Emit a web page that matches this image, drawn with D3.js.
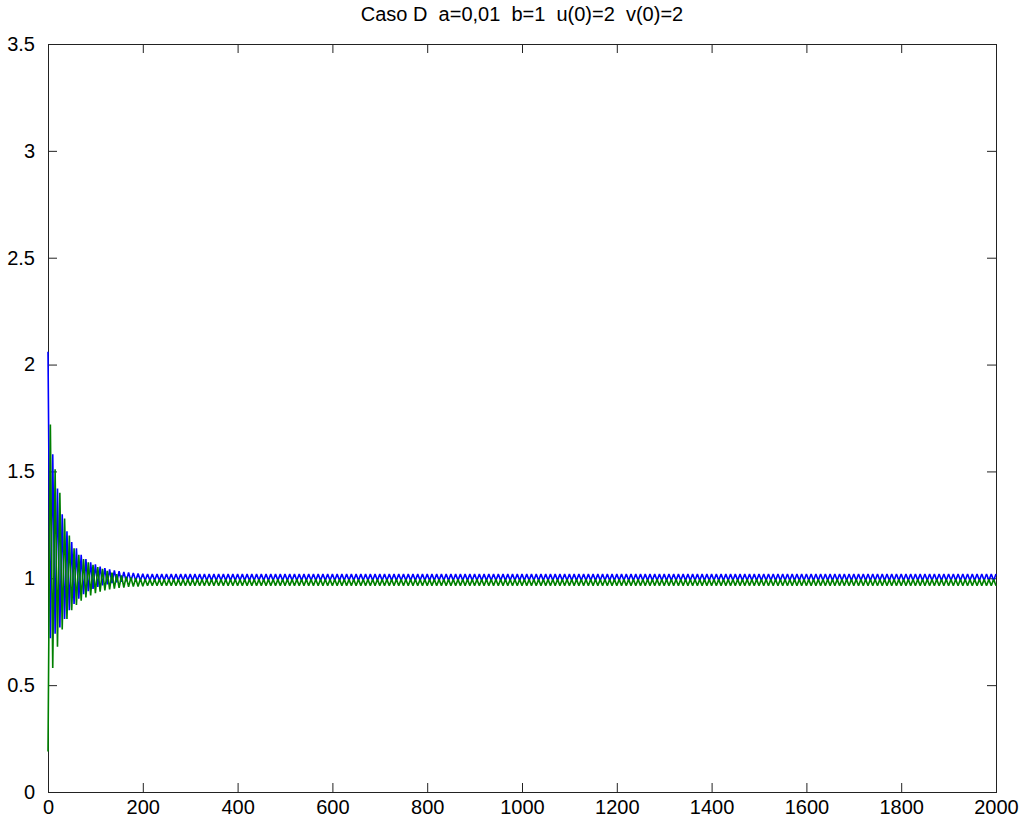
<!DOCTYPE html>
<html>
<head>
<meta charset="utf-8">
<script src="https://cdn.jsdelivr.net/npm/d3@7"></script>
<style>
  html, body { margin: 0; padding: 0; background: #ffffff; }
  svg { display: block; }
  text { font-family: "Liberation Sans", Arial, sans-serif; fill: #000; }
</style>
</head>
<body>
<svg id="chart" width="1026" height="824"></svg>
<script>
// Turning points of u(t) and v(t): successive maxima/minima, one every turnStep time units.
const turnStep = 5;

const uTransient = [
  2.06, 0.72, 1.58, 0.74, 1.42, 0.77, 1.30, 0.81, 1.22, 0.85,
  1.17, 0.88, 1.14, 0.905, 1.11, 0.925, 1.09, 0.94, 1.075, 0.95,
  1.065, 0.96, 1.055, 0.967, 1.048, 0.972, 1.042, 0.977, 1.037, 0.981,
  1.033, 0.984, 1.03, 0.986, 1.027, 0.988, 1.025, 0.989, 1.022, 0.99,
  1.021
];
const vTransient = [
  0.19, 1.72, 0.58, 1.51, 0.68, 1.40, 0.76, 1.28, 0.81, 1.20,
  0.85, 1.14, 0.875, 1.11, 0.895, 1.09, 0.91, 1.075, 0.92, 1.063,
  0.93, 1.053, 0.937, 1.044, 0.943, 1.035, 0.948, 1.027, 0.952, 1.02,
  0.955, 1.013, 0.957, 1.008, 0.96, 1.004, 0.961, 1.0, 0.962, 0.998,
  0.963
];
// Settled oscillation, t = 205 .. 2000
const uSettled = [
  0.99,1.02,0.99,1.02,0.99,1.02,0.99,1.02,0.99,1.02,0.99,1.02,0.99,1.02,0.99,1.02,0.99,1.02,0.99,1.02,
  0.99,1.02,0.99,1.02,0.99,1.02,0.99,1.02,0.99,1.02,0.99,1.02,0.99,1.02,0.99,1.02,0.99,1.02,0.99,1.02,
  0.99,1.02,0.99,1.02,0.99,1.02,0.99,1.02,0.99,1.02,0.99,1.02,0.99,1.02,0.99,1.02,0.99,1.02,0.99,1.02,
  0.99,1.02,0.99,1.02,0.99,1.02,0.99,1.02,0.99,1.02,0.99,1.02,0.99,1.02,0.99,1.02,0.99,1.02,0.99,1.02,
  0.99,1.02,0.99,1.02,0.99,1.02,0.99,1.02,0.99,1.02,0.99,1.02,0.99,1.02,0.99,1.02,0.99,1.02,0.99,1.02,
  0.99,1.02,0.99,1.02,0.99,1.02,0.99,1.02,0.99,1.02,0.99,1.02,0.99,1.02,0.99,1.02,0.99,1.02,0.99,1.02,
  0.99,1.02,0.99,1.02,0.99,1.02,0.99,1.02,0.99,1.02,0.99,1.02,0.99,1.02,0.99,1.02,0.99,1.02,0.99,1.02,
  0.99,1.02,0.99,1.02,0.99,1.02,0.99,1.02,0.99,1.02,0.99,1.02,0.99,1.02,0.99,1.02,0.99,1.02,0.99,1.02,
  0.99,1.02,0.99,1.02,0.99,1.02,0.99,1.02,0.99,1.02,0.99,1.02,0.99,1.02,0.99,1.02,0.99,1.02,0.99,1.02,
  0.99,1.02,0.99,1.02,0.99,1.02,0.99,1.02,0.99,1.02,0.99,1.02,0.99,1.02,0.99,1.02,0.99,1.02,0.99,1.02,
  0.99,1.02,0.99,1.02,0.99,1.02,0.99,1.02,0.99,1.02,0.99,1.02,0.99,1.02,0.99,1.02,0.99,1.02,0.99,1.02,
  0.99,1.02,0.99,1.02,0.99,1.02,0.99,1.02,0.99,1.02,0.99,1.02,0.99,1.02,0.99,1.02,0.99,1.02,0.99,1.02,
  0.99,1.02,0.99,1.02,0.99,1.02,0.99,1.02,0.99,1.02,0.99,1.02,0.99,1.02,0.99,1.02,0.99,1.02,0.99,1.02,
  0.99,1.02,0.99,1.02,0.99,1.02,0.99,1.02,0.99,1.02,0.99,1.02,0.99,1.02,0.99,1.02,0.99,1.02,0.99,1.02,
  0.99,1.02,0.99,1.02,0.99,1.02,0.99,1.02,0.99,1.02,0.99,1.02,0.99,1.02,0.99,1.02,0.99,1.02,0.99,1.02,
  0.99,1.02,0.99,1.02,0.99,1.02,0.99,1.02,0.99,1.02,0.99,1.02,0.99,1.02,0.99,1.02,0.99,1.02,0.99,1.02,
  0.99,1.02,0.99,1.02,0.99,1.02,0.99,1.02,0.99,1.02,0.99,1.02,0.99,1.02,0.99,1.02,0.99,1.02,0.99,1.02,
  0.99,1.02,0.99,1.02,0.99,1.02,0.99,1.02,0.99,1.02,0.99,1.02,0.99,1.02,0.99,1.02,0.99,1.02,0.99,1.02
];
const vSettled = [
  0.995,0.965,0.995,0.965,0.995,0.965,0.995,0.965,0.995,0.965,0.995,0.965,0.995,0.965,0.995,0.965,0.995,0.965,0.995,0.965,
  0.995,0.965,0.995,0.965,0.995,0.965,0.995,0.965,0.995,0.965,0.995,0.965,0.995,0.965,0.995,0.965,0.995,0.965,0.995,0.965,
  0.995,0.965,0.995,0.965,0.995,0.965,0.995,0.965,0.995,0.965,0.995,0.965,0.995,0.965,0.995,0.965,0.995,0.965,0.995,0.965,
  0.995,0.965,0.995,0.965,0.995,0.965,0.995,0.965,0.995,0.965,0.995,0.965,0.995,0.965,0.995,0.965,0.995,0.965,0.995,0.965,
  0.995,0.965,0.995,0.965,0.995,0.965,0.995,0.965,0.995,0.965,0.995,0.965,0.995,0.965,0.995,0.965,0.995,0.965,0.995,0.965,
  0.995,0.965,0.995,0.965,0.995,0.965,0.995,0.965,0.995,0.965,0.995,0.965,0.995,0.965,0.995,0.965,0.995,0.965,0.995,0.965,
  0.995,0.965,0.995,0.965,0.995,0.965,0.995,0.965,0.995,0.965,0.995,0.965,0.995,0.965,0.995,0.965,0.995,0.965,0.995,0.965,
  0.995,0.965,0.995,0.965,0.995,0.965,0.995,0.965,0.995,0.965,0.995,0.965,0.995,0.965,0.995,0.965,0.995,0.965,0.995,0.965,
  0.995,0.965,0.995,0.965,0.995,0.965,0.995,0.965,0.995,0.965,0.995,0.965,0.995,0.965,0.995,0.965,0.995,0.965,0.995,0.965,
  0.995,0.965,0.995,0.965,0.995,0.965,0.995,0.965,0.995,0.965,0.995,0.965,0.995,0.965,0.995,0.965,0.995,0.965,0.995,0.965,
  0.995,0.965,0.995,0.965,0.995,0.965,0.995,0.965,0.995,0.965,0.995,0.965,0.995,0.965,0.995,0.965,0.995,0.965,0.995,0.965,
  0.995,0.965,0.995,0.965,0.995,0.965,0.995,0.965,0.995,0.965,0.995,0.965,0.995,0.965,0.995,0.965,0.995,0.965,0.995,0.965,
  0.995,0.965,0.995,0.965,0.995,0.965,0.995,0.965,0.995,0.965,0.995,0.965,0.995,0.965,0.995,0.965,0.995,0.965,0.995,0.965,
  0.995,0.965,0.995,0.965,0.995,0.965,0.995,0.965,0.995,0.965,0.995,0.965,0.995,0.965,0.995,0.965,0.995,0.965,0.995,0.965,
  0.995,0.965,0.995,0.965,0.995,0.965,0.995,0.965,0.995,0.965,0.995,0.965,0.995,0.965,0.995,0.965,0.995,0.965,0.995,0.965,
  0.995,0.965,0.995,0.965,0.995,0.965,0.995,0.965,0.995,0.965,0.995,0.965,0.995,0.965,0.995,0.965,0.995,0.965,0.995,0.965,
  0.995,0.965,0.995,0.965,0.995,0.965,0.995,0.965,0.995,0.965,0.995,0.965,0.995,0.965,0.995,0.965,0.995,0.965,0.995,0.965,
  0.995,0.965,0.995,0.965,0.995,0.965,0.995,0.965,0.995,0.965,0.995,0.965,0.995,0.965,0.995,0.965,0.995,0.965,0.995,0.965
];

const xTicks = [0, 200, 400, 600, 800, 1000, 1200, 1400, 1600, 1800, 2000];
const yTicks = [0, 0.5, 1, 1.5, 2, 2.5, 3, 3.5];
const yTickLabels = ["0", "0.5", "1", "1.5", "2", "2.5", "3", "3.5"];
const titleText = "Caso D  a=0,01  b=1  u(0)=2  v(0)=2";

const W = 1026, H = 824;
const margin = { top: 44, right: 30, bottom: 32, left: 48 };

const svg = d3.select("#chart");

const x = d3.scaleLinear().domain([0, 2000]).range([margin.left, W - margin.right]);
const y = d3.scaleLinear().domain([0, 3.5]).range([H - margin.bottom, margin.top]);

const uValues = uTransient.concat(uSettled);
const vValues = vTransient.concat(vSettled);

// Axes: inward ticks on all four sides, labels on bottom and left only
const tickLen = 9;
const axisColor = "#222";
const fontSize = 20;

const gBottom = svg.append("g")
  .attr("transform", `translate(0,${H - margin.bottom})`)
  .call(d3.axisBottom(x).tickValues(xTicks).tickSizeInner(-tickLen).tickSizeOuter(0).tickPadding(8)
    .tickFormat(d => String(d)));
const gLeft = svg.append("g")
  .attr("transform", `translate(${margin.left},0)`)
  .call(d3.axisLeft(y).tickValues(yTicks).tickSizeInner(-tickLen).tickSizeOuter(0).tickPadding(13)
    .tickFormat((d, i) => yTickLabels[i]));
const gTop = svg.append("g")
  .attr("transform", `translate(0,${margin.top})`)
  .call(d3.axisTop(x).tickValues(xTicks).tickSizeInner(-tickLen).tickSizeOuter(0).tickFormat(""));
const gRight = svg.append("g")
  .attr("transform", `translate(${W - margin.right},0)`)
  .call(d3.axisRight(y).tickValues(yTicks).tickSizeInner(-tickLen).tickSizeOuter(0).tickFormat(""));

[gBottom, gLeft, gTop, gRight].forEach(g => {
  g.select(".domain").remove();
  g.selectAll(".tick line").attr("stroke", axisColor);
  g.selectAll(".tick text")
    .attr("font-family", "'Liberation Sans', Arial, sans-serif")
    .attr("font-size", fontSize)
    .attr("fill", "#000");
});

// Plot box
svg.append("rect")
  .attr("x", margin.left + 0.5)
  .attr("y", margin.top + 0.5)
  .attr("width", W - margin.right - margin.left)
  .attr("height", H - margin.bottom - margin.top)
  .attr("fill", "none")
  .attr("stroke", axisColor)
  .attr("stroke-width", 1);

// Series, drawn over the box so the start at t = 0 stays visible
const line = d3.line()
  .x((d, i) => x(i * turnStep))
  .y(d => y(d));

const plot = svg.append("g");
plot.append("path")
  .attr("d", line(uValues))
  .attr("fill", "none")
  .attr("stroke", "#0000ff")
  .attr("stroke-width", 1.6)
  .attr("stroke-linejoin", "miter")
  .attr("stroke-miterlimit", 2);
plot.append("path")
  .attr("d", line(vValues))
  .attr("fill", "none")
  .attr("stroke", "#008000")
  .attr("stroke-width", 1.6)
  .attr("stroke-linejoin", "miter")
  .attr("stroke-miterlimit", 2);

// Title
svg.append("text")
  .attr("x", (margin.left + W - margin.right) / 2)
  .attr("y", 21)
  .attr("text-anchor", "middle")
  .attr("font-size", 20)
  .style("white-space", "pre")
  .text(titleText);
</script>
</body>
</html>
